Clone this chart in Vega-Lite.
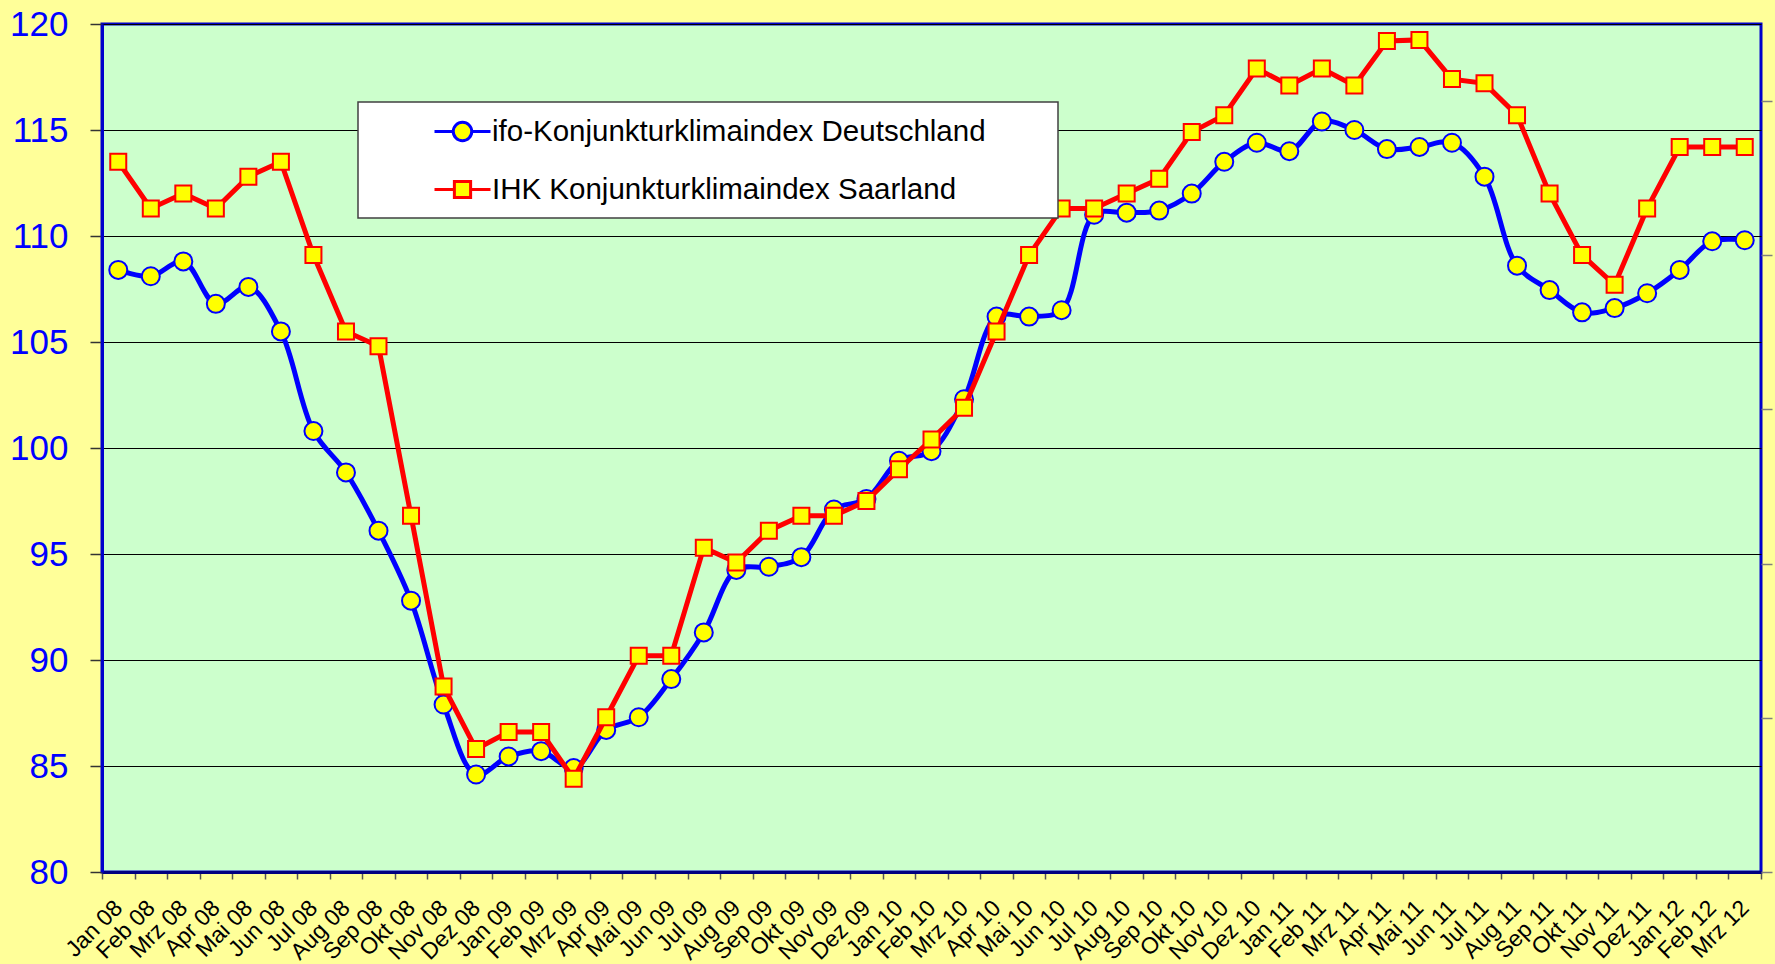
{
  "$schema": "https://vega.github.io/schema/vega-lite/v6.json",
  "width": 1659,
  "height": 848,
  "autosize": {"type": "none"},
  "padding": {"left": 102, "top": 24, "right": 14, "bottom": 92},
  "background": "#FFFF99",
  "config": {
    "view": {"fill": "#CCFFCC", "stroke": "#0000CC", "strokeWidth": 3},
    "font": "Liberation Sans"
  },
  "data": {
    "values": [
      {"month": "Jan 08", "ifo": 108.4, "ihk": 113.5},
      {"month": "Feb 08", "ifo": 108.1, "ihk": 111.3},
      {"month": "Mrz 08", "ifo": 108.8, "ihk": 112.0},
      {"month": "Apr 08", "ifo": 106.8, "ihk": 111.3},
      {"month": "Mai 08", "ifo": 107.6, "ihk": 112.8},
      {"month": "Jun 08", "ifo": 105.5, "ihk": 113.5},
      {"month": "Jul 08", "ifo": 100.8, "ihk": 109.1},
      {"month": "Aug 08", "ifo": 98.85, "ihk": 105.5},
      {"month": "Sep 08", "ifo": 96.1, "ihk": 104.8},
      {"month": "Okt 08", "ifo": 92.8, "ihk": 96.8},
      {"month": "Nov 08", "ifo": 87.9, "ihk": 88.75},
      {"month": "Dez 08", "ifo": 84.6, "ihk": 85.8},
      {"month": "Jan 09", "ifo": 85.45, "ihk": 86.6},
      {"month": "Feb 09", "ifo": 85.7, "ihk": 86.6},
      {"month": "Mrz 09", "ifo": 84.9, "ihk": 84.4},
      {"month": "Apr 09", "ifo": 86.7, "ihk": 87.3},
      {"month": "Mai 09", "ifo": 87.3, "ihk": 90.2},
      {"month": "Jun 09", "ifo": 89.1, "ihk": 90.2},
      {"month": "Jul 09", "ifo": 91.3, "ihk": 95.3},
      {"month": "Aug 09", "ifo": 94.25, "ihk": 94.6},
      {"month": "Sep 09", "ifo": 94.4, "ihk": 96.1},
      {"month": "Okt 09", "ifo": 94.85, "ihk": 96.8},
      {"month": "Nov 09", "ifo": 97.1, "ihk": 96.8},
      {"month": "Dez 09", "ifo": 97.6, "ihk": 97.5},
      {"month": "Jan 10", "ifo": 99.4, "ihk": 99.0},
      {"month": "Feb 10", "ifo": 99.85, "ihk": 100.4},
      {"month": "Mrz 10", "ifo": 102.3, "ihk": 101.9},
      {"month": "Apr 10", "ifo": 106.2, "ihk": 105.5},
      {"month": "Mai 10", "ifo": 106.2, "ihk": 109.1},
      {"month": "Jun 10", "ifo": 106.5, "ihk": 111.3},
      {"month": "Jul 10", "ifo": 111.0, "ihk": 111.3},
      {"month": "Aug 10", "ifo": 111.1, "ihk": 112.0},
      {"month": "Sep 10", "ifo": 111.2, "ihk": 112.7},
      {"month": "Okt 10", "ifo": 112.0, "ihk": 114.9},
      {"month": "Nov 10", "ifo": 113.5, "ihk": 115.7},
      {"month": "Dez 10", "ifo": 114.4, "ihk": 117.9},
      {"month": "Jan 11", "ifo": 114.0, "ihk": 117.1},
      {"month": "Feb 11", "ifo": 115.4, "ihk": 117.9},
      {"month": "Mrz 11", "ifo": 115.0, "ihk": 117.1},
      {"month": "Apr 11", "ifo": 114.1, "ihk": 119.2},
      {"month": "Mai 11", "ifo": 114.2, "ihk": 119.25},
      {"month": "Jun 11", "ifo": 114.4, "ihk": 117.4},
      {"month": "Jul 11", "ifo": 112.8, "ihk": 117.2},
      {"month": "Aug 11", "ifo": 108.6, "ihk": 115.7},
      {"month": "Sep 11", "ifo": 107.45, "ihk": 112.0},
      {"month": "Okt 11", "ifo": 106.4, "ihk": 109.1},
      {"month": "Nov 11", "ifo": 106.6, "ihk": 107.7},
      {"month": "Dez 11", "ifo": 107.3, "ihk": 111.3},
      {"month": "Jan 12", "ifo": 108.4, "ihk": 114.2},
      {"month": "Feb 12", "ifo": 109.75, "ihk": 114.2},
      {"month": "Mrz 12", "ifo": 109.8, "ihk": 114.2}
    ]
  },
  "layer": [
    {
      "encoding": {
        "x": {
          "field": "month",
          "type": "ordinal",
          "sort": null,
          "scale": {"paddingInner": 0, "paddingOuter": 0},
          "axis": {
            "title": null,
            "labelAngle": -45,
            "labelAlign": "right",
            "labelBaseline": "middle",
            "labelFont": "Liberation Sans",
            "labelFontSize": 23,
            "labelColor": "#000000",
            "labelPadding": 25,
            "labelOverlap": false,
            "tickBand": "extent",
            "tickSize": 7,
            "tickColor": "#555555",
            "tickWidth": 1.5,
            "domainColor": "#000080",
            "domainWidth": 3,
            "grid": false
          }
        }
      },
      "layer": [
        {
          "mark": {"type": "line", "interpolate": "catmull-rom", "strokeWidth": 5},
          "encoding": {
            "y": {
              "field": "ifo",
              "type": "quantitative",
              "scale": {"domain": [80, 120], "nice": false, "zero": false},
              "axis": {
                "title": null,
                "values": [80, 85, 90, 95, 100, 105, 110, 115, 120],
                "labelFont": "Liberation Sans",
                "labelFontSize": 35,
                "labelColor": "#0000FF",
                "labelPadding": 22,
                "tickSize": 12,
                "tickColor": "#333333",
                "tickWidth": 1.5,
                "grid": true,
                "gridColor": "#000000",
                "gridWidth": 1,
                "domainColor": "#0000CC",
                "domainWidth": 3
              }
            },
            "color": {
              "datum": "ifo-Konjunkturklimaindex Deutschland",
              "type": "nominal",
              "scale": {
                "domain": ["ifo-Konjunkturklimaindex Deutschland", "IHK Konjunkturklimaindex Saarland"],
                "range": ["#0000FF", "#FF0000"]
              },
              "legend": {
                "title": null,
                "orient": "none",
                "legendX": 256,
                "legendY": 78,
                "padding": 0,
                "rowPadding": 0,
                "symbolOffset": 75,
                "labelOffset": 0,
                "symbolSize": 3136,
                "symbolStrokeWidth": 3,
                "symbolType": "M-1,0L-0.33,0M0.33,0L1,0M0.33,0A0.33,0.33,0,1,1,-0.33,0A0.33,0.33,0,1,1,0.33,0ZM21.02,-0.77M21.02,0.77",
                "labelFont": "Liberation Sans",
                "labelFontSize": 29.5,
                "labelColor": "#000000",
                "labelLimit": 1000,
                "fillColor": "#FFFFFF",
                "strokeColor": "#404040",
                "encode": {
                  "legend": {"update": {"strokeWidth": {"value": 1.5}}},
                  "symbols": {
                    "update": {
                      "shape": {"signal": "indexof(datum.value, 'ifo') === 0 ? 'M-1,0L-0.33,0M0.33,0L1,0M0.33,0A0.33,0.33,0,1,1,-0.33,0A0.33,0.33,0,1,1,0.33,0ZM21.02,-0.77M21.02,0.77' : 'M-1,0L-0.29,0M0.29,0L1,0M-0.29,-0.29L0.29,-0.29L0.29,0.29L-0.29,0.29ZM21.02,-0.77M21.02,0.77'"},
                      "stroke": {"signal": "indexof(datum.value, 'ifo') === 0 ? '#0000FF' : '#FF0000'"},
                      "fill": {"value": "#FFFF00"},
                      "strokeWidth": {"value": 3},
                      "opacity": {"value": 1}
                    }
                  }
                }
              }
            }
          }
        },
        {
          "mark": {"type": "point", "shape": "circle", "size": 324, "filled": true, "fill": "#FFFF00", "stroke": "#0000FF", "strokeWidth": 2, "opacity": 1},
          "encoding": {
            "y": {"field": "ifo", "type": "quantitative", "scale": {"domain": [80, 120], "nice": false, "zero": false}}
          }
        },
        {
          "mark": {"type": "line", "interpolate": "linear", "strokeWidth": 5},
          "encoding": {
            "y": {"field": "ihk", "type": "quantitative", "scale": {"domain": [80, 120], "nice": false, "zero": false}},
            "color": {"datum": "IHK Konjunkturklimaindex Saarland", "type": "nominal"}
          }
        },
        {
          "mark": {"type": "point", "shape": "square", "size": 256, "filled": true, "fill": "#FFFF00", "stroke": "#FF0000", "strokeWidth": 2, "opacity": 1},
          "encoding": {
            "y": {"field": "ihk", "type": "quantitative", "scale": {"domain": [80, 120], "nice": false, "zero": false}}
          }
        }
      ]
    },
    {
      "mark": {"type": "rule", "opacity": 0},
      "encoding": {
        "y": {
          "datum": 0,
          "type": "quantitative",
          "scale": {"domain": [0, 110], "nice": false, "zero": false},
          "axis": {
            "orient": "right",
            "title": null,
            "values": [0, 20, 40, 60, 80, 100],
            "labels": false,
            "ticks": true,
            "tickSize": 11,
            "tickColor": "#808080",
            "tickWidth": 1.5,
            "domain": false,
            "grid": false
          }
        }
      }
    }
  ],
  "resolve": {"scale": {"y": "independent"}}
}
